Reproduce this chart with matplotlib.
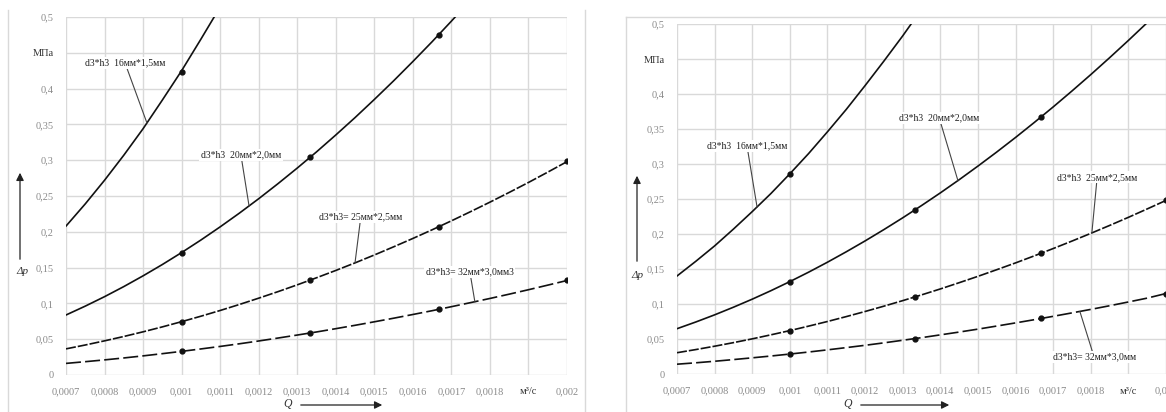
import matplotlib
matplotlib.use("Agg")
import matplotlib.pyplot as plt
from matplotlib.ticker import FixedLocator, FixedFormatter
from matplotlib.lines import Line2D
from matplotlib.patches import FancyArrowPatch

# ---------------- data ----------------
Q = [0.00070, 0.00075, 0.00080, 0.00085, 0.00090, 0.00095, 0.00100, 0.00105, 0.00110,
     0.00115, 0.00120, 0.00125, 0.00130, 0.00135, 0.00140, 0.00145, 0.00150, 0.00155,
     0.00160, 0.00165, 0.00170, 0.00175, 0.00180, 0.00185, 0.00190, 0.00195, 0.00200]
Q_marks = [0.0010, 0.0013333, 0.0016667, 0.0020]

# left chart
L1 = [0.208, 0.239, 0.272, 0.307, 0.344, 0.384, 0.425, 0.469, 0.514]
L2 = [0.0838, 0.0962, 0.1094, 0.1235, 0.1385, 0.1543, 0.171, 0.1885, 0.2069, 0.2261,
      0.2462, 0.2672, 0.289, 0.3116, 0.3352, 0.3595, 0.3848, 0.4108, 0.4378, 0.4655,
      0.4942, 0.5237]
L3 = [0.0365, 0.0419, 0.0477, 0.0538, 0.0603, 0.0672, 0.0745, 0.0821, 0.0901, 0.0985,
      0.1073, 0.1164, 0.1259, 0.1358, 0.146, 0.1566, 0.1676, 0.179, 0.1907, 0.2028,
      0.2153, 0.2282, 0.2414, 0.255, 0.2689, 0.2833, 0.298]
L4 = [0.0162, 0.0186, 0.0211, 0.0238, 0.0267, 0.0298, 0.033, 0.0364, 0.0399, 0.0436,
      0.0475, 0.0516, 0.0558, 0.0601, 0.0647, 0.0694, 0.0743, 0.0793, 0.0845, 0.0898,
      0.0954, 0.1011, 0.1069, 0.1129, 0.1191, 0.1255, 0.132]
L1_marks = [0.423]
L2_marks = [0.171, 0.304, 0.475]
L3_marks = [0.0745, 0.133, 0.207, 0.299]
L4_marks = [0.033, 0.058, 0.092, 0.132]

# right chart
R1 = [0.140, 0.161, 0.183, 0.207, 0.232, 0.258, 0.286, 0.315, 0.346, 0.378, 0.412,
      0.447, 0.483, 0.521]
R2 = [0.0647, 0.0743, 0.0845, 0.0954, 0.1069, 0.1191, 0.132, 0.1455, 0.1597, 0.1746,
      0.1901, 0.2063, 0.2231, 0.2406, 0.2587, 0.2775, 0.297, 0.3171, 0.3379, 0.3594,
      0.3815, 0.4043, 0.4277, 0.4518, 0.4765, 0.5019, 0.528]
R3 = [0.0304, 0.0349, 0.0397, 0.0448, 0.0502, 0.056, 0.062, 0.0684, 0.075, 0.082,
      0.0893, 0.0969, 0.1048, 0.113, 0.1215, 0.1304, 0.1395, 0.149, 0.1587, 0.1688,
      0.1792, 0.1899, 0.2009, 0.2122, 0.2238, 0.2358, 0.248]
R4 = [0.014, 0.016, 0.0182, 0.0206, 0.0231, 0.0257, 0.0285, 0.0314, 0.0345, 0.0377,
      0.041, 0.0445, 0.0482, 0.0519, 0.0559, 0.0599, 0.0641, 0.0685, 0.073, 0.0776,
      0.0824, 0.0873, 0.0923, 0.0975, 0.1029, 0.1084, 0.115]
R1_marks = [0.286]
R2_marks = [0.132, 0.234, 0.367]
R3_marks = [0.062, 0.110, 0.173, 0.249]
R4_marks = [0.0285, 0.0505, 0.0795, 0.115]

x_ticks = [0.0007, 0.0008, 0.0009, 0.0010, 0.0011, 0.0012, 0.0013,
           0.0014, 0.0015, 0.0016, 0.0017, 0.0018, 0.0019, 0.0020]
x_labels = ["0,0007", "0,0008", "0,0009", "0,001", "0,0011", "0,0012", "0,0013",
            "0,0014", "0,0015", "0,0016", "0,0017", "0,0018", "м³/с", "0,002"]
y_ticks = [0, 0.05, 0.1, 0.15, 0.2, 0.25, 0.3, 0.35, 0.4, 0.45, 0.5]
y_labels = ["0", "0,05", "0,1", "0,15", "0,2", "0,25", "0,3", "0,35", "0,4", "МПа", "0,5"]

left_labels = ["d3*h3  16мм*1,5мм", "d3*h3  20мм*2,0мм", "d3*h3= 25мм*2,5мм", "d3*h3= 32мм*3,0мм3"]
right_labels = ["d3*h3  16мм*1,5мм", "d3*h3  20мм*2,0мм", "d3*h3  25мм*2,5мм", "d3*h3= 32мм*3,0мм"]
# (text position, leader end on curve) in data units
left_ann = [((0.000853, 0.436), (0.000910, 0.352)),
            ((0.001154, 0.307), (0.001175, 0.236)),
            ((0.001465, 0.221), (0.001450, 0.157)),
            ((0.001748, 0.144), (0.001761, 0.102))]
right_ann = [((0.000886, 0.326), (0.000913, 0.238)),
             ((0.001397, 0.366), (0.001447, 0.276)),
             ((0.001817, 0.281), (0.001803, 0.202)),
             ((0.001809, 0.024), (0.001771, 0.0894))]

# ---------------- figure ----------------
W, H = 1166, 412
plt.rcParams['font.family'] = ['Liberation Serif', 'DejaVu Serif']
fig = plt.figure(figsize=(W / 100, H / 100), dpi=100)


def px(x, y):
    return x / W, 1 - y / H


def axes_from_px(x0, x1, ytop, ybot):
    return fig.add_axes([x0 / W, 1 - ybot / H, (x1 - x0) / W, (ybot - ytop) / H])


styles = [dict(ls='-'), dict(ls='-'), dict(ls=(0, (6, 1.2))), dict(ls=(0, (9, 2.5)))]


def make_chart(ax, curves, marks, labels, anns):
    ax.set_xlim(0.0007, 0.0020)
    ax.set_ylim(0, 0.5)
    for s in ax.spines.values():
        s.set_visible(False)
    ax.xaxis.set_major_locator(FixedLocator(x_ticks))
    ax.xaxis.set_major_formatter(FixedFormatter(x_labels))
    ax.yaxis.set_major_locator(FixedLocator(y_ticks))
    ax.yaxis.set_major_formatter(FixedFormatter(y_labels))
    ax.tick_params(length=0, labelsize=7.5, labelcolor='#8a8a8a')
    ax.tick_params(axis='x', pad=9)
    ax.tick_params(axis='y', pad=9)
    for t in ax.get_xticklabels():
        if t.get_text() == "м³/с":
            t.set_color('#333333')
    for t in ax.get_yticklabels():
        if t.get_text() == "МПа":
            t.set_color('#333333')
    ax.grid(True, color='#d9d9d9', lw=1.0)
    ax.set_axisbelow(True)
    for i, (vals, mv) in enumerate(zip(curves, marks)):
        ax.plot(Q[:len(vals)], vals, color='#111111', lw=1.2, **styles[i])
        ax.plot(Q_marks[:len(mv)], mv, 'o', color='#111111', ms=3.5)
    for txt, ((tx, ty), (cx, cy)) in zip(labels, anns):
        ax.annotate(txt, xy=(cx, cy), xytext=(tx, ty), fontsize=7, color='#222222',
                    ha='center', va='center',
                    bbox=dict(boxstyle='square,pad=0.15', fc='white', ec='none'),
                    arrowprops=dict(arrowstyle='-', color='#444444', lw=0.8,
                                    shrinkA=0, shrinkB=0))


axL = axes_from_px(66, 567, 17, 375)
make_chart(axL, [L1, L2, L3, L4], [L1_marks, L2_marks, L3_marks, L4_marks], left_labels, left_ann)

axR = axes_from_px(677, 1166, 24, 374)
make_chart(axR, [R1, R2, R3, R4], [R1_marks, R2_marks, R3_marks, R4_marks], right_labels, right_ann)

# chart borders
border = '#d9d9d9'
for (xa, ya), (xb, yb) in [((8, 10), (8, 412)), ((585, 10), (585, 412)),
                           ((626, 17), (1166, 17)), ((626, 17), (626, 412))]:
    p0, p1 = px(xa, ya), px(xb, yb)
    fig.add_artist(Line2D([p0[0], p1[0]], [p0[1], p1[1]], color=border, lw=1.0))


def arrow(x0, y0, x1, y1):
    fig.add_artist(FancyArrowPatch(px(x0, y0), px(x1, y1), transform=fig.transFigure,
                                   arrowstyle='-|>,head_length=3,head_width=1.5',
                                   color='#222222', lw=0.9, mutation_scale=1.5))


fig.text(*px(22, 272), "Δp", fontsize=8, style='italic', color='#333333', ha='center', va='center')
arrow(20, 262, 20, 170)
fig.text(*px(288, 404), "Q", fontsize=8.5, style='italic', color='#333333', ha='center', va='center')
arrow(298, 405, 385, 405)

fig.text(*px(637, 276), "Δp", fontsize=8, style='italic', color='#333333', ha='center', va='center')
arrow(637, 264, 637, 173)
fig.text(*px(848, 404), "Q", fontsize=8.5, style='italic', color='#333333', ha='center', va='center')
arrow(858, 405, 952, 405)

fig.savefig("out.png", dpi=100)
